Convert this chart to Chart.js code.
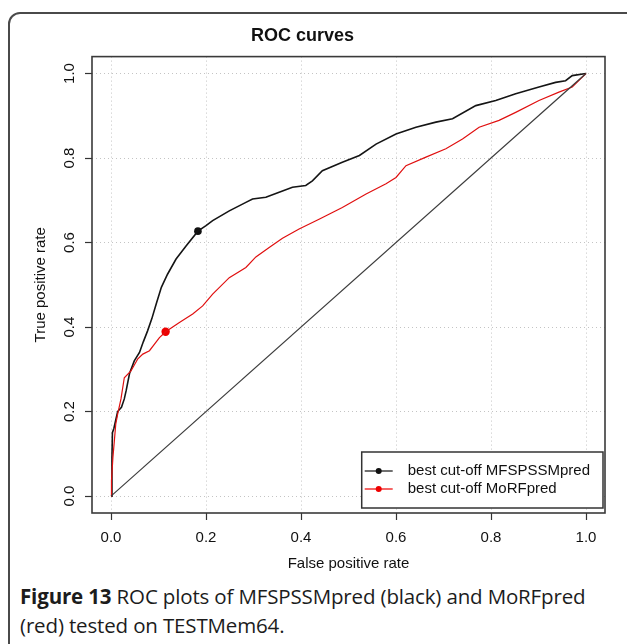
<!DOCTYPE html>
<html>
<head>
<meta charset="utf-8">
<script src="https://cdn.jsdelivr.net/npm/chart.js@4.4.1/dist/chart.umd.min.js"></script>
<style>
  html, body { margin: 0; padding: 0; background: #fff; overflow: hidden; }
  body { width: 627px; height: 644px; position: relative; }
  #frame {
    position: absolute; left: 8px; top: 12px; width: 660px; height: 680px;
    border: 2px solid #4a4a4a; border-radius: 12px; box-sizing: border-box;
  }
  #plot { position: absolute; left: 0; top: 0; width: 627px; height: 580px; }
  #caption {
    position: absolute; left: 20px; top: 582px; width: 620px; white-space: nowrap;
    font-family: "Open Sans", sans-serif; font-size: 20.5px; line-height: 29px; color: #1c1c1c;
    letter-spacing: -0.15px;
  }
  #caption b { font-weight: 700; }
</style>
</head>
<body>
<div id="frame"></div>
<div id="plot"><canvas id="roc" width="627" height="580"></canvas></div>
<div id="caption"><b>Figure 13</b> ROC plots of MFSPSSMpred (black) and MoRFpred<br>(red) tested on TESTMem64.</div>
<script>
// MFSPSSMpred ROC curve
const mfsFpr = [0, 0.002, 0.002, 0.003, 0.006, 0.010, 0.014, 0.022, 0.028, 0.032, 0.039, 0.049, 0.060, 0.068, 0.077, 0.086,
  0.095, 0.106, 0.119, 0.137, 0.158, 0.183, 0.200, 0.214, 0.249, 0.284, 0.298, 0.326, 0.354, 0.382, 0.410, 0.424, 0.445,
  0.487, 0.523, 0.558, 0.600, 0.642, 0.684, 0.719, 0.768, 0.810, 0.852, 0.901, 0.936, 0.957, 0.971, 1.0];
const mfsTpr = [0, 0.030, 0.090, 0.150, 0.160, 0.180, 0.200, 0.210, 0.230, 0.250, 0.290, 0.320, 0.340, 0.365, 0.391, 0.420,
  0.454, 0.494, 0.525, 0.561, 0.592, 0.627, 0.640, 0.652, 0.675, 0.695, 0.703, 0.707, 0.719, 0.731, 0.735, 0.746, 0.770,
  0.790, 0.806, 0.833, 0.857, 0.873, 0.885, 0.893, 0.924, 0.936, 0.952, 0.968, 0.979, 0.983, 0.995, 1.0];

// MoRFpred ROC curve
const morfFpr = [0, 0.001, 0.004, 0.007, 0.010, 0.014, 0.021, 0.028, 0.042, 0.053, 0.056, 0.067, 0.081, 0.102, 0.115, 0.144,
  0.172, 0.193, 0.214, 0.249, 0.284, 0.305, 0.333, 0.361, 0.396, 0.438, 0.487, 0.537, 0.579, 0.600, 0.621, 0.663, 0.705,
  0.740, 0.775, 0.817, 0.852, 0.901, 0.943, 0.971, 1.0];
const morfTpr = [0, 0.036, 0.091, 0.130, 0.170, 0.194, 0.230, 0.280, 0.296, 0.318, 0.324, 0.336, 0.344, 0.375, 0.389, 0.411,
  0.431, 0.450, 0.478, 0.517, 0.541, 0.566, 0.588, 0.610, 0.632, 0.655, 0.683, 0.715, 0.739, 0.754, 0.782, 0.802, 0.822,
  0.845, 0.873, 0.889, 0.908, 0.936, 0.956, 0.968, 1.0];

// chance line
const diagFpr = [0, 1];
const diagTpr = [0, 1];

// best cut-off points: MFSPSSMpred, MoRFpred
const cutoffFpr = [0.183, 0.115];
const cutoffTpr = [0.627, 0.389];
const cutoffLabels = ['best cut-off MFSPSSMpred', 'best cut-off MoRFpred'];
const cutoffColors = ['#111111', '#ee0000'];

const tickValues = [0, 0.2, 0.4, 0.6, 0.8, 1.0];

const FONT = 'Liberation Sans, Arial, sans-serif';

function pts(xs, ys) {
  return xs.map((x, i) => ({ x: x, y: ys[i] }));
}

// box around the plot region + the bottom-right legend
const boxPlugin = {
  id: 'rBox',
  afterDraw(chart) {
    const ctx = chart.ctx;
    const a = chart.chartArea;
    ctx.save();
    ctx.strokeStyle = '#3a3a3a';
    ctx.lineWidth = 1.6;
    ctx.strokeRect(a.left, a.top, a.right - a.left, a.bottom - a.top);

    // legend
    ctx.font = '15px ' + FONT;
    const textW = Math.max(...cutoffLabels.map(t => ctx.measureText(t).width));
    const right = a.right - 2;
    const bottom = a.bottom - 5;
    const w = 46 + textW + 13;
    const h = 56;
    const left = right - w;
    const top = bottom - h;
    ctx.fillStyle = '#fff';
    ctx.fillRect(left, top, w, h);
    ctx.strokeStyle = '#333';
    ctx.lineWidth = 1.5;
    ctx.strokeRect(left, top, w, h);
    cutoffLabels.forEach((label, i) => {
      const y = top + 19 + i * 18;
      ctx.strokeStyle = cutoffColors[i];
      ctx.lineWidth = 1.2;
      ctx.beginPath();
      ctx.moveTo(left + 3, y);
      ctx.lineTo(left + 31, y);
      ctx.stroke();
      ctx.fillStyle = cutoffColors[i];
      ctx.beginPath();
      ctx.arc(left + 17, y, 3, 0, Math.PI * 2);
      ctx.fill();
      ctx.fillStyle = '#111';
      ctx.textBaseline = 'middle';
      ctx.textAlign = 'left';
      ctx.fillText(label, left + 46, y);
    });
    ctx.restore();
  }
};

const axisBase = (title, titlePad) => ({
  type: 'linear',
  min: -0.04,
  max: 1.04,
  afterBuildTicks: s => { s.ticks = tickValues.map(v => ({ value: v })); },
  grid: {
    color: '#c4c4c4',
    lineWidth: 1,
    tickColor: '#333',
    tickLength: 7,
    tickWidth: 1.2,
    tickBorderDash: []
  },
  border: { display: false, dash: [1, 3] },
  ticks: {
    color: '#111',
    font: { family: FONT, size: 15 },
    callback: v => v.toFixed(1)
  },
  title: {
    display: true,
    text: title,
    color: '#111',
    font: { family: FONT, size: 15 },
    padding: titlePad
  }
});

const xAxis = axisBase('False positive rate', { top: 0, bottom: 7 });
xAxis.ticks.padding = 9;
xAxis.ticks.maxRotation = 0;
xAxis.afterFit = s => { s.height = 67; };

const yAxis = axisBase('True positive rate', { top: 32, bottom: 0 });
yAxis.ticks.minRotation = 90;
yAxis.ticks.maxRotation = 90;
yAxis.ticks.crossAlign = 'center';
yAxis.ticks.padding = 5;
yAxis.afterFit = s => { s.width = 92; };

new Chart(document.getElementById('roc'), {
  type: 'scatter',
  data: {
    datasets: [{
      label: 'chance',
      data: pts(diagFpr, diagTpr),
      showLine: true,
      borderColor: '#3c3c3c',
      borderWidth: 1.2,
      pointRadius: 0
    }, {
      label: 'MoRFpred',
      data: pts(morfFpr, morfTpr),
      showLine: true,
      borderColor: '#e01010',
      borderWidth: 1.2,
      pointRadius: 0
    }, {
      label: 'MFSPSSMpred',
      data: pts(mfsFpr, mfsTpr),
      showLine: true,
      borderColor: '#151515',
      borderWidth: 1.6,
      pointRadius: 0
    }, {
      label: cutoffLabels[0],
      data: [{ x: cutoffFpr[0], y: cutoffTpr[0] }],
      pointRadius: 3.8,
      pointBackgroundColor: cutoffColors[0],
      pointBorderWidth: 0
    }, {
      label: cutoffLabels[1],
      data: [{ x: cutoffFpr[1], y: cutoffTpr[1] }],
      pointRadius: 4.2,
      pointBackgroundColor: cutoffColors[1],
      pointBorderWidth: 0
    }]
  },
  options: {
    responsive: false,
    animation: false,
    layout: { padding: { left: 0, right: 22, top: 0, bottom: 0 } },
    scales: { x: xAxis, y: yAxis },
    plugins: {
      legend: { display: false },
      tooltip: { enabled: false },
      title: {
        display: true,
        text: 'ROC curves',
        color: '#111',
        font: { family: FONT, size: 18, weight: 'bold' },
        padding: { top: 25, bottom: 10 }
      }
    }
  },
  plugins: [boxPlugin]
});
</script>
</body>
</html>
